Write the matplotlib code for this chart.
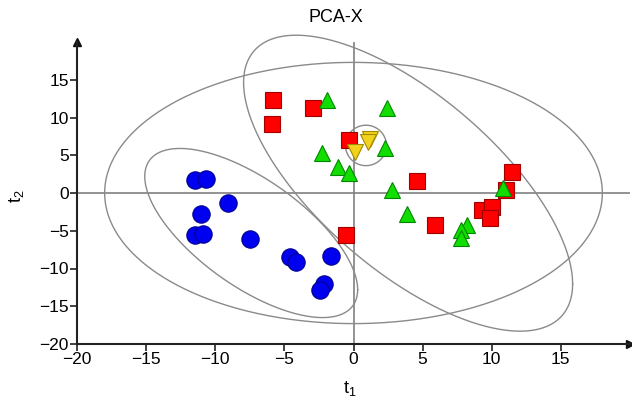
import numpy as np
import matplotlib
matplotlib.use("Agg")
import matplotlib.pyplot as plt

plt.rcParams['font.family'] = ['Liberation Sans', 'DejaVu Sans']

# scores (t1, t2) per group
blue_t1 = [-11.5, -10.7, -9.1, -11.0, -11.5, -10.9, -7.5, -4.6, -4.15, -1.6, -2.1, -2.4]
blue_t2 = [1.75, 1.85, -1.35, -2.75, -5.6, -5.4, -6.1, -8.45, -9.2, -8.3, -12.1, -12.9]

red_t1 = [-5.8, -5.9, -2.95, -0.3, -0.55, 4.6, 5.9, 9.3, 10.0, 9.85, 11.45, 11.0]
red_t2 = [12.3, 9.2, 11.3, 7.0, -5.55, 1.55, -4.25, -2.3, -1.9, -3.25, 2.8, 0.45]

green_t1 = [-1.9, -2.3, -1.1, -0.3, 2.4, 2.3, 2.8, 3.9, 8.2, 7.8, 7.75, 10.8]
green_t2 = [12.3, 5.3, 3.4, 2.6, 11.3, 6.0, 0.45, -2.8, -4.3, -4.85, -6.0, 0.6]

yellow_t1 = [0.1, 1.2, 1.05]
yellow_t2 = [5.4, 7.2, 6.8]

# confidence ellipses: centre, half-width in t1, half-height in t2, correlation
ell_cx = [0.0, -7.4, 3.95, 0.9]
ell_cy = [0.0, -5.3, 1.3, 6.3]
ell_wx = [18.0, 7.7, 11.9, 1.48]
ell_wy = [17.3, 11.2, 19.6, 2.68]
ell_rho = [0.0, -0.67, -0.68, 0.0]

fig = plt.figure(figsize=(6.32, 4.01), dpi=100)
ax = fig.add_axes([77 / 632, 57 / 401, 553 / 632, 302 / 401])

ax.axhline(0, color='#808080', lw=1.2, zorder=1)
ax.axvline(0, color='#808080', lw=1.2, zorder=1)

phi = np.linspace(0, 2 * np.pi, 400)
for cx, cy, wx, wy, rho in zip(ell_cx, ell_cy, ell_wx, ell_wy, ell_rho):
    cov = np.array([[wx * wx, rho * wx * wy], [rho * wx * wy, wy * wy]])
    L = np.linalg.cholesky(cov)
    pts = L @ np.vstack([np.cos(phi), np.sin(phi)])
    ax.plot(cx + pts[0], cy + pts[1], color='#8a8a8a', lw=1.0, zorder=2, clip_on=False)

ax.plot(blue_t1, blue_t2, 'o', ms=12.5, mfc='#0000f0', mec='#00008c', mew=0.8, ls='none', zorder=3)
ax.plot(red_t1, red_t2, 's', ms=11, mfc='#ff0000', mec='#a00000', mew=0.8, ls='none', zorder=4)
ax.plot(green_t1, green_t2, '^', ms=11, mfc='#11dd00', mec='#008800', mew=0.8, ls='none', zorder=5)
ax.plot(yellow_t1, yellow_t2, 'v', ms=11, mfc='#f2d21c', mec='#a08a00', mew=0.8, ls='none', zorder=6)

ax.set_xlim(-20, 20)
ax.set_ylim(-20, 20)
ax.set_xticks([-20, -15, -10, -5, 0, 5, 10, 15])
ax.set_yticks([-20, -15, -10, -5, 0, 5, 10, 15])
ax.tick_params(labelsize=12.5, length=5, width=1.2, color='#222222', pad=1)

for s in ['top', 'right']:
    ax.spines[s].set_visible(False)
for s in ['left', 'bottom']:
    ax.spines[s].set_linewidth(1.5)
    ax.spines[s].set_color('#222222')

ax.plot(1, 0, '>', color='#111111', ms=6, transform=ax.transAxes, clip_on=False)
ax.plot(0, 1, '^', color='#111111', ms=6, transform=ax.transAxes, clip_on=False)

fig.text(336 / 632, 1 - 17 / 401, 'PCA-X', ha='center', va='center', fontsize=13)
fig.text(350 / 632, 1 - 388 / 401, '$\\mathregular{t_1}$', ha='center', va='center', fontsize=13)
fig.text(16 / 632, 1 - 196 / 401, '$\\mathregular{t_2}$', ha='center', va='center', fontsize=13, rotation=90)

fig.savefig('out.png', dpi=100)
